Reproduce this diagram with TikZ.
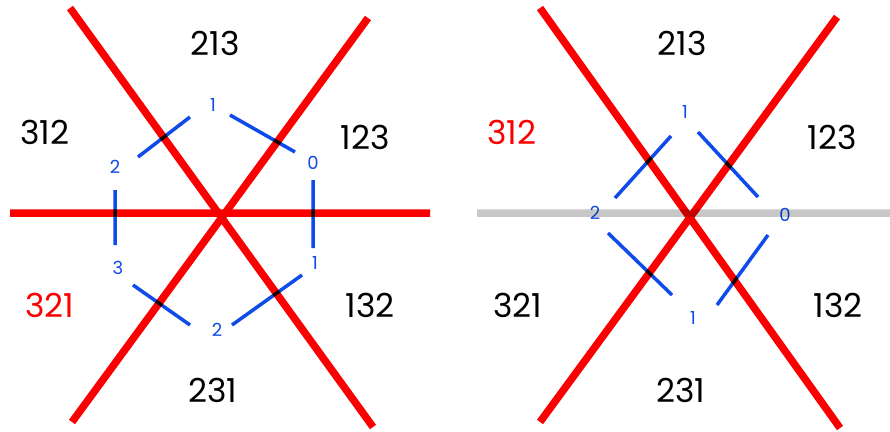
\documentclass[tikz,border=0pt]{standalone}
\usepackage{fontspec}
\setmainfont{Poppins}
\definecolor{lred}{RGB}{250,0,0}
\definecolor{lblue}{RGB}{15,75,235}
\definecolor{lgray}{RGB}{200,200,200}
\begin{document}
\begin{tikzpicture}[x=1pt,y=-1pt,
  redline/.style={draw=lred,line width=7.5pt},
  grayline/.style={draw=lgray,line width=7.5pt},
  blueseg/.style={draw=lblue,line width=3.5pt},
  perm/.style={font=\fontsize{33}{35}\selectfont,text=black,inner sep=0pt},
  redperm/.style={perm,text=lred},
  idx/.style={font=\fontsize{18}{19}\selectfont,text=lblue,inner sep=0pt}]
\useasboundingbox[fill=white] (0,0) rectangle (890,431);
% ---------- left panel ----------
\coordinate (La1) at (70,8);   \coordinate (La2) at (373,427);
\coordinate (Lb1) at (72,422); \coordinate (Lb2) at (368,18);
\coordinate (Lc1) at (10,213); \coordinate (Lc2) at (430,213);
\coordinate (s1a) at (138,157); \coordinate (s1b) at (190,117);
\coordinate (s2a) at (230,115); \coordinate (s2b) at (295,152);
\coordinate (s3a) at (313,180); \coordinate (s3b) at (313,248);
\coordinate (s4a) at (232,325); \coordinate (s4b) at (302,275);
\coordinate (s5a) at (133,285); \coordinate (s5b) at (190,325);
\coordinate (s6a) at (115,190); \coordinate (s6b) at (115,245);
% ---------- right panel ----------
\coordinate (Ra1) at (540,8);   \coordinate (Ra2) at (840,428);
\coordinate (Rb1) at (540,422); \coordinate (Rb2) at (837,17);
\coordinate (Rc1) at (477,213); \coordinate (Rc2) at (890,213);
\coordinate (t1a) at (615,198); \coordinate (t1b) at (671,136);
\coordinate (t2a) at (698,132); \coordinate (t2b) at (758,197);
\coordinate (t3a) at (608,233); \coordinate (t3b) at (672,295);
\coordinate (t4a) at (717,305); \coordinate (t4b) at (768,235);
\begin{scope}[blend group=multiply]
  \draw[redline] (La1) -- (La2);
  \draw[redline] (Lb1) -- (Lb2);
  \draw[redline] (Lc1) -- (Lc2);
  \draw[blueseg] (s1a) -- (s1b);
  \draw[blueseg] (s2a) -- (s2b);
  \draw[blueseg] (s3a) -- (s3b);
  \draw[blueseg] (s4a) -- (s4b);
  \draw[blueseg] (s5a) -- (s5b);
  \draw[blueseg] (s6a) -- (s6b);
  \draw[grayline] (Rc1) -- (Rc2);
  \draw[redline] (Ra1) -- (Ra2);
  \draw[redline] (Rb1) -- (Rb2);
  \draw[blueseg] (t1a) -- (t1b);
  \draw[blueseg] (t2a) -- (t2b);
  \draw[blueseg] (t3a) -- (t3b);
  \draw[blueseg] (t4a) -- (t4b);
  % right-panel index labels (over the gray line)
  \node[idx] (r1) at (685,112) {1};
  \node[idx] (r2) at (595,213) {2};
  \node[idx] (r0) at (785,215) {0};
  \node[idx] (r1b) at (693,318) {1};
\end{scope}
% left-panel index labels
\node[idx] (l1) at (213,105) {1};
\node[idx] (l0) at (313,163) {0};
\node[idx] (l1b) at (315,263) {1};
\node[idx] (l2b) at (217,330) {2};
\node[idx] (l3) at (118,268) {3};
\node[idx] (l2) at (115,167) {2};
% permutation labels, left
\node[perm] (L213) at (215,43) {213};
\node[perm] (L312) at (45,132) {312};
\node[perm] (L123) at (365,137) {123};
\node[perm] (L132) at (370,305) {132};
\node[redperm] (L321) at (50,305) {321};
\node[perm] (L231) at (213,390) {231};
% permutation labels, right
\node[perm] (R213) at (682,43) {213};
\node[redperm] (R312) at (512,132) {312};
\node[perm] (R123) at (832,137) {123};
\node[perm] (R132) at (838,305) {132};
\node[perm] (R321) at (518,305) {321};
\node[perm] (R231) at (681,390) {231};
\end{tikzpicture}
\end{document}
